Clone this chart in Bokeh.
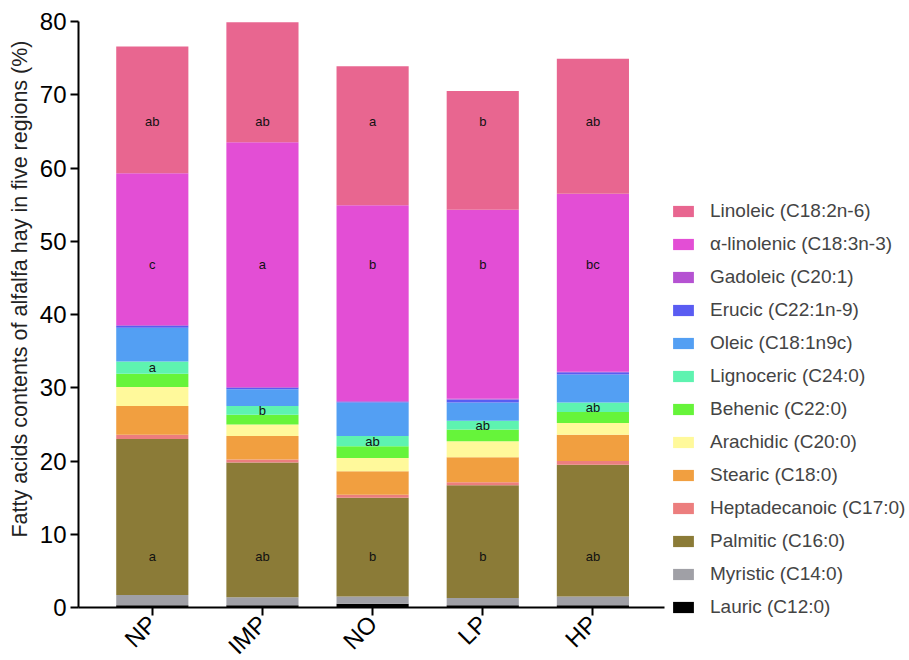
import math
from bokeh.plotting import figure
from bokeh.models import ColumnDataSource, Range1d, FixedTicker, Legend, LegendItem, Title
from bokeh.core.properties import value
from bokeh.embed import file_html
from bokeh.resources import INLINE

regions = ["NP", "IMP", "NO", "LP", "HP"]

lauric = [0.3, 0.3, 0.5, 0.3, 0.3]
myristic = [1.4, 1.1, 1.0, 1.0, 1.2]
palmitic = [21.3, 18.4, 13.5, 15.4, 18.0]
heptadecanoic = [0.6, 0.4, 0.4, 0.4, 0.5]
stearic = [3.9, 3.2, 3.2, 3.4, 3.6]
arachidic = [2.6, 1.6, 1.8, 2.2, 1.6]
behenic = [1.8, 1.3, 1.6, 1.6, 1.5]
lignoceric = [1.7, 1.2, 1.4, 1.2, 1.3]
oleic = [4.6, 2.3, 4.6, 2.5, 3.8]
erucic = [0.25, 0.2, 0.1, 0.4, 0.3]
gadoleic = [0.1, 0.1, 0.1, 0.1, 0.1]
alpha_linolenic = [20.75, 33.4, 26.7, 25.8, 24.3]
linoleic = [17.3, 16.4, 19.0, 16.2, 18.4]

# significance letters
letters_linoleic = ["ab", "ab", "a", "b", "ab"]
letters_alpha = ["c", "a", "b", "b", "bc"]
letters_lignoceric = ["a", "b", "ab", "ab", "ab"]
letters_palmitic = ["a", "ab", "b", "b", "ab"]

# stack order bottom -> top
series_keys = ["lauric", "myristic", "palmitic", "heptadecanoic", "stearic", "arachidic",
               "behenic", "lignoceric", "oleic", "erucic", "gadoleic", "alpha", "linoleic"]
series_vals = [lauric, myristic, palmitic, heptadecanoic, stearic, arachidic,
               behenic, lignoceric, oleic, erucic, gadoleic, alpha_linolenic, linoleic]
series_names = ["Lauric (C12:0)", "Myristic (C14:0)", "Palmitic (C16:0)", "Heptadecanoic (C17:0)",
                "Stearic (C18:0)", "Arachidic (C20:0)", "Behenic (C22:0)", "Lignoceric (C24:0)",
                "Oleic (C18:1n9c)", "Erucic (C22:1n-9)", "Gadoleic (C20:1)",
                "\u03b1-linolenic (C18:3n-3)", "Linoleic (C18:2n-6)"]
colors = ["#000000", "#A0A0A6", "#8B7B37", "#EC7E7E", "#F19F40", "#FFF99B",
          "#66F43A", "#5EF3B0", "#539FF3", "#5A5CF2", "#B552D2", "#E34ED5", "#E86690"]

xs = list(range(len(regions)))
data = {"x": xs}
for k, v in zip(series_keys, series_vals):
    data[k] = v
source = ColumnDataSource(data)

FONT = "Liberation Sans"

p = figure(frame_width=586, frame_height=586, output_backend="svg", toolbar_location=None,
           x_range=Range1d(-0.67, 4.65), y_range=Range1d(0, 80),
           min_border_left=78, min_border_top=21, min_border_right=0, min_border_bottom=40)
p.outline_line_color = None
p.xgrid.visible = False
p.ygrid.visible = False

renderers = p.vbar_stack(series_keys, x="x", width=0.655, source=source,
                         fill_color=colors, line_color=None)

# letters
def cum(upto):
    out = [0.0] * len(regions)
    for v in series_vals[:upto]:
        out = [a + b for a, b in zip(out, v)]
    return out

lig_idx = series_keys.index("lignoceric")
lig_bottom = cum(lig_idx)
lig_mid = [b + v / 2 for b, v in zip(lig_bottom, lignoceric)]

label_x = xs * 4
label_y = [66.3] * 5 + [46.8] * 5 + lig_mid + [7.0] * 5
label_t = letters_linoleic + letters_alpha + letters_lignoceric + letters_palmitic
p.text(x=label_x, y=label_y, text=label_t, text_font=value(FONT), text_font_size="13px",
       text_align="center", text_baseline="middle", text_color="#111111")

# axes
p.yaxis.ticker = FixedTicker(ticks=[0, 10, 20, 30, 40, 50, 60, 70, 80])
for ax in (p.xaxis[0], p.yaxis[0]):
    ax.axis_line_width = 2
    ax.axis_line_color = "black"
    ax.major_tick_line_width = 2
    ax.major_tick_out = 8
    ax.major_tick_in = 0
    ax.minor_tick_line_color = None
    ax.major_label_text_font = FONT
    ax.major_label_text_font_size = "24px"
    ax.major_label_text_color = "black"
p.yaxis.major_label_standoff = 4

ytitle = Title(text="Fatty acids contents of alfalfa hay in five regions (%)",
               align="right", offset=19, text_font=FONT, text_font_size="21.5px",
               text_font_style="normal", text_color="#222222")
p.add_layout(ytitle, "left")

p.xaxis.ticker = FixedTicker(ticks=xs)
p.xaxis.major_label_overrides = {i: r for i, r in zip(xs, regions)}
p.xaxis.major_label_orientation = math.pi / 4
p.xaxis.major_label_standoff = 4

items = [LegendItem(label=n, renderers=[r]) for n, r in zip(series_names, renderers)]
items.reverse()
legend = Legend(items=items, location=(6, -11), orientation="vertical",
                padding=0, margin=0, spacing=11, label_height=20,
                glyph_width=26, glyph_height=14, label_standoff=14,
                label_text_font=FONT, label_text_font_size="19px",
                border_line_color=None, background_fill_alpha=0)
p.add_layout(legend, "right")

open("out.html", "w").write(file_html(p, INLINE))
